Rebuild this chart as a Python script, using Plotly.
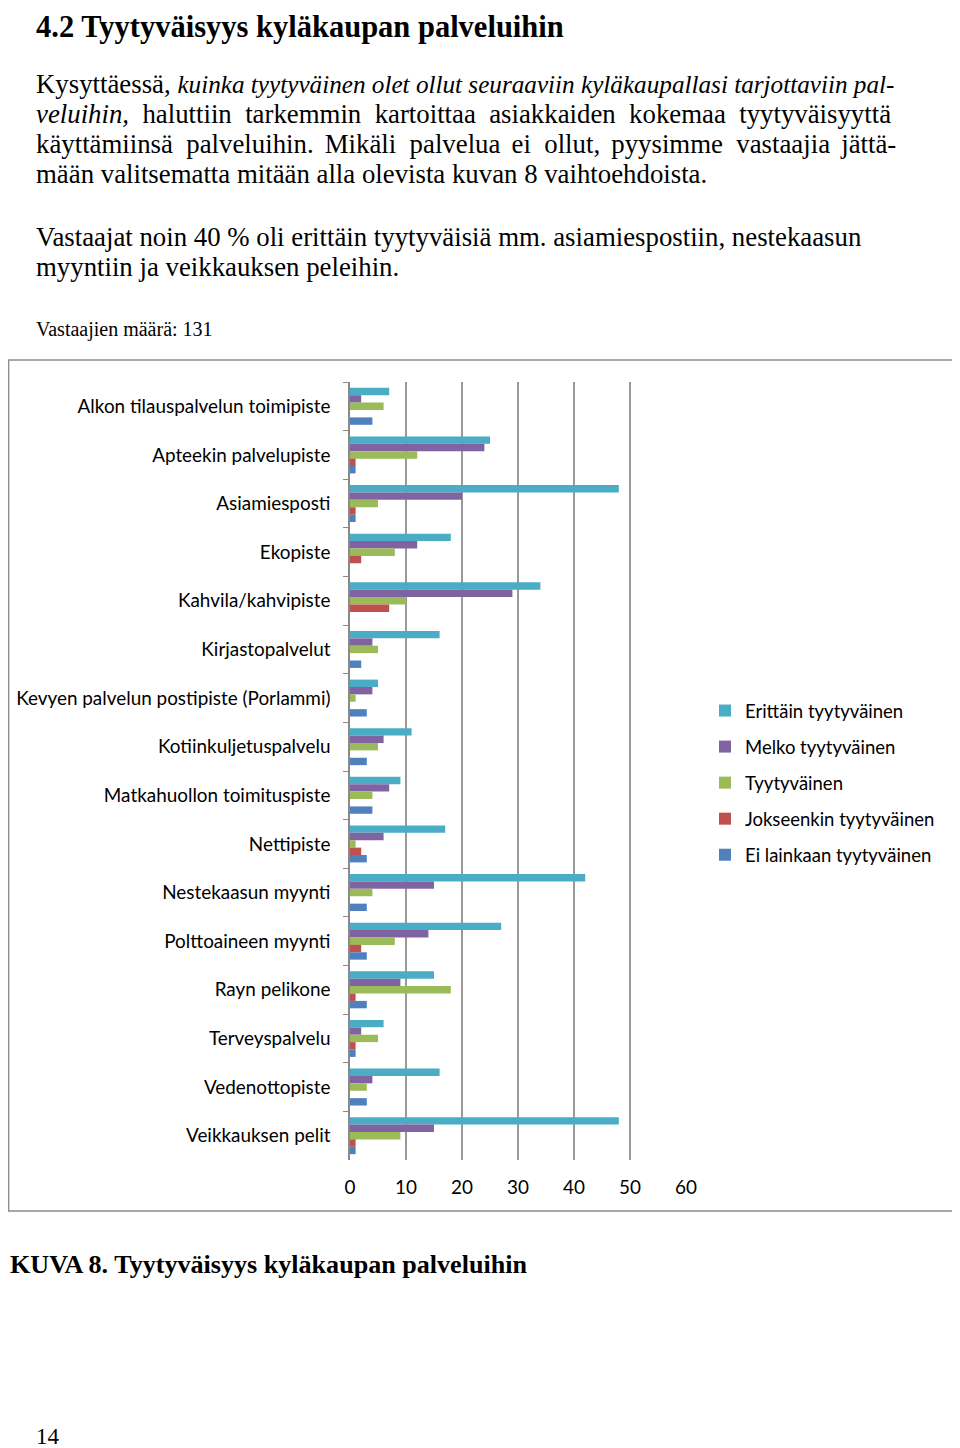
import plotly.graph_objects as go

W, H = 960, 1448
OFF = 8  # default page body margin in the written html

categories = [
    "Alkon tilauspalvelun toimipiste",
    "Apteekin palvelupiste",
    "Asiamiesposti",
    "Ekopiste",
    "Kahvila/kahvipiste",
    "Kirjastopalvelut",
    "Kevyen palvelun postipiste (Porlammi)",
    "Kotiinkuljetuspalvelu",
    "Matkahuollon toimituspiste",
    "Nettipiste",
    "Nestekaasun myynti",
    "Polttoaineen myynti",
    "Rayn pelikone",
    "Terveyspalvelu",
    "Vedenottopiste",
    "Veikkauksen pelit",
]

erittain = [7, 25, 48, 18, 34, 16, 5, 11, 9, 17, 42, 27, 15, 6, 16, 48]
melko = [2, 24, 20, 12, 29, 4, 4, 6, 7, 6, 15, 14, 9, 2, 4, 15]
tyytyvainen = [6, 12, 5, 8, 10, 5, 1, 5, 4, 1, 4, 8, 18, 5, 3, 9]
jokseenkin = [0, 1, 1, 2, 7, 0, 0, 0, 0, 2, 0, 2, 1, 1, 0, 1]
ei_lainkaan = [4, 1, 1, 0, 0, 2, 3, 3, 4, 3, 3, 3, 3, 1, 3, 1]

series_names = ["Erittäin tyytyväinen", "Melko tyytyväinen", "Tyytyväinen",
                "Jokseenkin tyytyväinen", "Ei lainkaan tyytyväinen"]
series_values = [erittain, melko, tyytyvainen, jokseenkin, ei_lainkaan]
colors = ["#4BACC6", "#8064A2", "#9BBB59", "#C0504D", "#4F81BD"]

x_ticks = [0, 10, 20, 30, 40, 50, 60]


def px(x):
    return (x - OFF) / W


def py(y):
    return 1 - (y - OFF) / H


fig = go.Figure()
for name, vals, col in zip(series_names, series_values, colors):
    fig.add_trace(go.Bar(
        y=categories, x=vals, name=name, orientation="h",
        marker=dict(color=col, line=dict(width=0)),
        legendgroup=name,
    ))

body_font = "Liberation Serif"
label_font = "Lato"
LBL = 18.9

fig.update_layout(
    width=W, height=H,
    margin=dict(l=0, r=0, t=0, b=0, autoexpand=False),
    paper_bgcolor="white", plot_bgcolor="white",
    barmode="group", bargap=0.24, bargroupgap=0,
    showlegend=True,
    legend=dict(
        x=px(705), y=py(692), xanchor="left", yanchor="top",
        font=dict(family=label_font, size=18.5, color="#000"),
        traceorder="grouped", tracegroupgap=9,
        bgcolor="rgba(0,0,0,0)", borderwidth=0,
        itemclick=False,
    ),
    xaxis=dict(
        domain=[px(350), px(686)], range=[0, 60],
        tickvals=x_ticks, ticktext=[str(v) for v in x_ticks],
        showgrid=True, gridcolor="#999999", gridwidth=1.5,
        zeroline=False, showline=False, ticks="",
        tickfont=dict(family=label_font, size=LBL, color="#000"),
        ticklabelstandoff=14,
        automargin=False,
        fixedrange=True,
    ),
    yaxis=dict(
        domain=[py(1160), py(382)],
        type="category", categoryorder="array", categoryarray=categories,
        autorange="reversed",
        showline=True, linecolor="#8a8a8a", linewidth=1.5,
        ticks="outside", tickson="boundaries", ticklen=5, tickcolor="#8a8a8a",
        tickfont=dict(family=label_font, size=LBL, color="#000"),
        ticklabelstandoff=14,
        showgrid=False, zeroline=False,
        automargin=False,
        fixedrange=True,
    ),
)

# chart frame
fig.add_shape(type="rect", xref="paper", yref="paper",
              x0=max(px(4), 0.6 / W), x1=px(958), y0=py(1211), y1=py(360),
              line=dict(color="#8c8c8c", width=1.5), fillcolor="rgba(0,0,0,0)",
              layer="below")


def text(t, x, y, size, bold=False, family=body_font, yanchor="middle"):
    if bold:
        t = "<b>" + t + "</b>"
    fig.add_annotation(text=t, x=px(x), y=py(y), xref="paper", yref="paper",
                       xanchor="left", yanchor=yanchor, showarrow=False,
                       font=dict(family=family, size=size, color="#000"))


NB = "&nbsp;"
SIX = "\u2006"   # six-per-em space
HAIR = "\u200a"  # hair space
BODY = 26.8


def justify(words, extras):
    out = words[0]
    for i, w in enumerate(words[1:]):
        out += " " + extras[i % len(extras)] + w
    return out


text("4.2 Tyytyväisyys kyläkaupan palveluihin", 34, 8, 30.5, bold=True, yanchor="top")
text("Kysyttäessä, <i><span style='font-size:25.2px'>kuinka tyytyväinen olet ollut seuraaviin "
     "kyläkaupallasi tarjottaviin pal-</span></i>", 34, 84, BODY)
text(justify(["<i>veluihin,</i>", "haluttiin", "tarkemmin", "kartoittaa", "asiakkaiden",
              "kokemaa", "tyytyväisyyttä"], [NB]), 34, 114, BODY)
text(justify(["käyttämiinsä", "palveluihin.", "Mikäli", "palvelua", "ei", "ollut,",
              "pyysimme", "vastaajia", "jättä-"], [SIX + HAIR, SIX]), 34, 144, BODY)
text("mään valitsematta mitään alla olevista kuvan 8 vaihtoehdoista.", 34, 174, BODY)
text("Vastaajat noin 40 % oli erittäin tyytyväisiä mm. asiamiespostiin, nestekaasun", 34, 237, BODY)
text("myyntiin ja veikkauksen peleihin.", 34, 267, BODY)
text("Vastaajien määrä: 131", 34, 329, 20)
text("KUVA 8. Tyytyväisyys kyläkaupan palveluihin", 8, 1264, 26.1, bold=True)
text("14", 34, 1436, 23)

fig.write_html("out.html")
